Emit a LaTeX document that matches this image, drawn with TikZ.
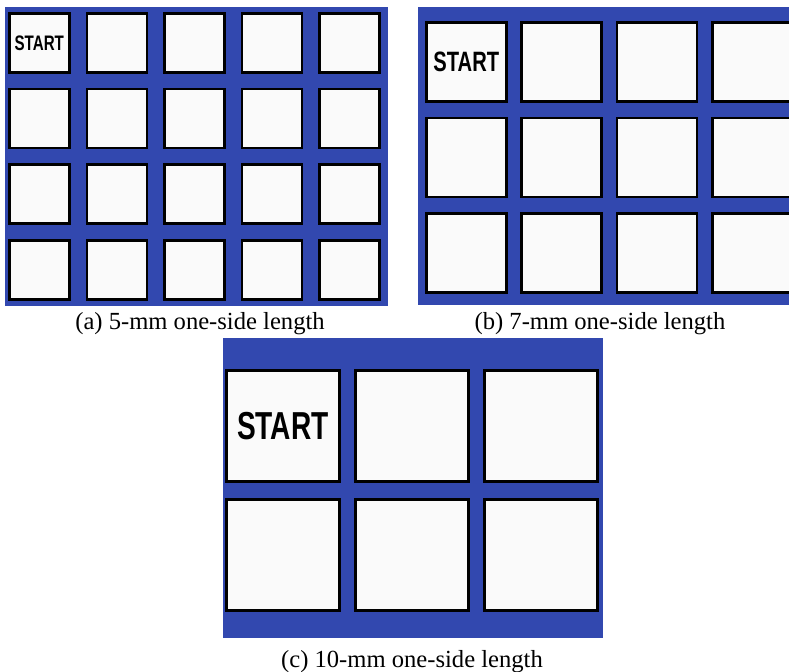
\documentclass[tikz,border=0pt]{standalone}
\usepackage{fontspec}
\setmainfont{Liberation Serif}
\newfontfamily\keyfont{Liberation Sans}
\usetikzlibrary{positioning}
\definecolor{panelblue}{RGB}{50,72,175}
\definecolor{keywhite}{RGB}{250,250,250}
\newcommand{\startlabel}[1]{{\keyfont\bfseries\fontsize{#1}{#1}\selectfont\scalebox{0.72}[1]{START}}}

\begin{document}
\begin{tikzpicture}[
        x=0.5pt, y=-0.5pt,
        panel/.style={fill=panelblue, draw=none},
        key/.style={rectangle, draw=black, fill=keywhite, line width=1.3pt, anchor=north west, inner sep=0pt},
        keya/.style={key, minimum width=30pt, minimum height=29.5pt},
        keyb/.style={key, minimum width=40pt, minimum height=39.5pt},
        keyc/.style={key, minimum width=56.5pt, minimum height=55.5pt},
        starttext/.style={inner sep=0pt},
        caption/.style={anchor=base, inner sep=0pt, font=\fontsize{12.3}{14}\selectfont}
    ]
    \useasboundingbox (0,0) rectangle (789,671);

    % Panel (a): 5 x 4 keys
    \fill[panel] (5,7) rectangle (388,306);
    \foreach \r in {1,...,4}
        \foreach \c in {1,...,5}
            \node[keya] (a-\r-\c) at ({8+77.5*(\c-1)},{12+75.7*(\r-1)}) {};
    \node[starttext] (a-start) at (a-1-1) {\startlabel{10.5}};
    \node[caption] (cap-a) at (200,329) {(a) 5-mm one-side length};

    % Panel (b): 4 x 3 keys, cut at the right edge
    \begin{scope}
        \clip (418,7) rectangle (789,305);
        \fill[panel] (418,7) rectangle (800,305);
        \foreach \r in {1,...,3}
            \foreach \c in {1,...,4}
                \node[keyb] (b-\r-\c) at ({425+95.3*(\c-1)},{21+95.5*(\r-1)}) {};
        \node[starttext] (b-start) at (b-1-1) {\startlabel{14}};
    \end{scope}
    \node[caption] (cap-b) at (600,329) {(b) 7-mm one-side length};

    % Panel (c): 3 x 2 keys
    \fill[panel] (223,338) rectangle (603,638);
    \foreach \r in {1,2}
        \foreach \c in {1,...,3}
            \node[keyc] (c-\r-\c) at ({225+129*(\c-1)},{369+129*(\r-1)}) {};
    \node[starttext] (c-start) at (c-1-1) {\startlabel{19.5}};
    \node[caption] (cap-c) at (412,667) {(c) 10-mm one-side length};

\end{tikzpicture}
\end{document}
